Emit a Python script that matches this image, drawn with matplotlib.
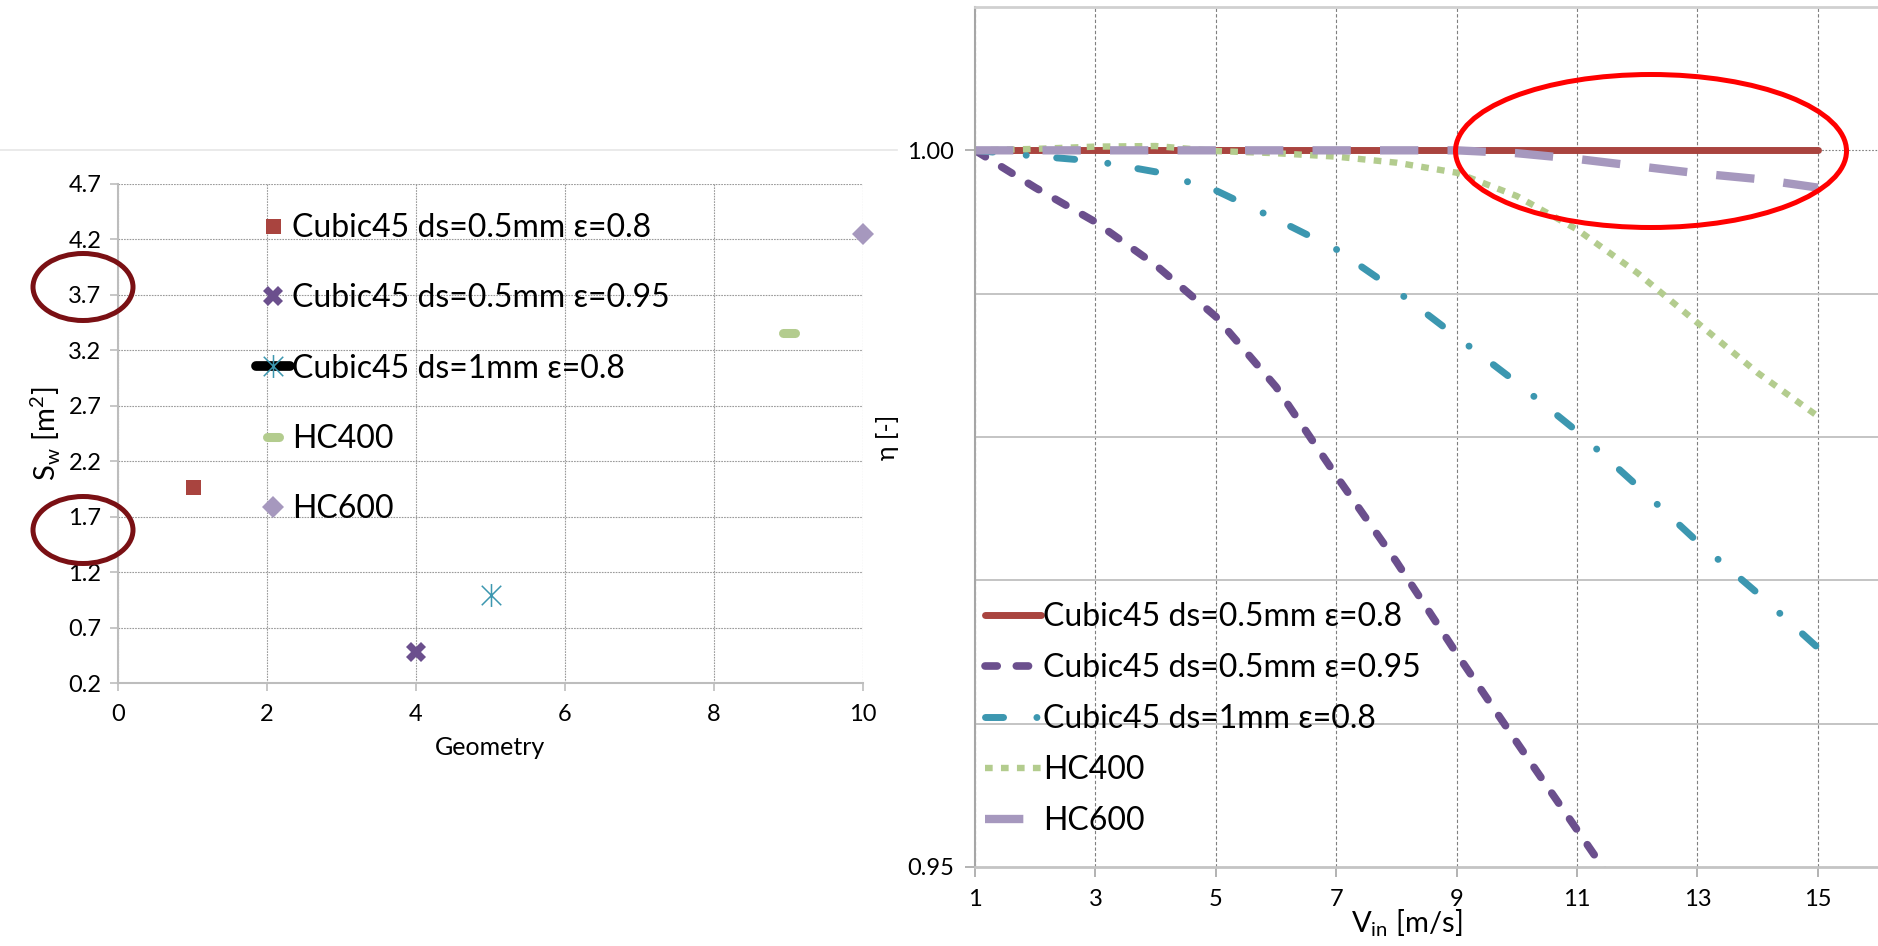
import matplotlib
matplotlib.use('Agg')
import matplotlib.pyplot as plt
from matplotlib.patches import Ellipse
from matplotlib.lines import Line2D
from matplotlib.markers import MarkerStyle
from matplotlib.path import Path
from matplotlib.ticker import FixedLocator, MultipleLocator, FormatStrFormatter

plt.rcParams['font.family'] = ['Lato', 'DejaVu Sans']
plt.rcParams['mathtext.fontset'] = 'custom'
plt.rcParams['mathtext.rm'] = 'Lato'

# wetted surface per geometry
geom_names = ['Cubic45 ds=0.5mm ε=0.8', 'Cubic45 ds=0.5mm ε=0.95',
              'Cubic45 ds=1mm ε=0.8', 'HC400', 'HC600']
geom_x = [1, 4, 5, 9, 10]
geom_sw = [1.97, 0.48, 0.99, 3.36, 4.25]
sw_ticks = [0.2, 0.7, 1.2, 1.7, 2.2, 2.7, 3.2, 3.7, 4.2, 4.7]

# efficiency against inlet velocity
v_in = [1, 2, 3, 4, 5, 6, 7, 8, 9, 10, 11, 12, 13, 14, 15]
eta_c05_08 = [1.0, 1.0, 1.0, 1.0, 1.0, 1.0, 1.0, 1.0, 1.0, 1.0, 1.0, 1.0, 1.0, 1.0, 1.0]
eta_c05_095 = [1.0, 0.9974, 0.9950, 0.9920, 0.9884, 0.9835, 0.9773, 0.9713,
               0.9649, 0.9587, 0.9526, 0.9465]
eta_c1_08 = [1.0, 0.9996, 0.99925, 0.9985, 0.9972, 0.9952, 0.9931, 0.9902,
             0.9870, 0.9838, 0.9804, 0.9766, 0.9727, 0.9691, 0.9653]
eta_hc400 = [1.0, 1.0001, 1.00026, 1.0003, 0.99995, 0.9998, 0.99956, 0.99914,
             0.99844, 0.99681, 0.99448, 0.99146, 0.98797, 0.98448, 0.98145]
eta_hc600 = [1.0, 1.0, 1.0, 1.0, 1.0, 1.0, 1.0, 1.0, 1.0, 0.9998, 0.9994,
             0.9989, 0.9984, 0.9980, 0.9974]

colors = ['#A9443F', '#6B4F8D', '#3C97B0', '#B3CC8E', '#A698BE']

W, H = 1878, 946
fig = plt.figure(figsize=(W / 100, H / 100), dpi=100)


def fx(x):
    return x / W


def fy(y):
    return 1 - y / H


# ---- left chart: S_w per geometry ----
ax1 = fig.add_axes([fx(118), fy(683), 745 / W, 499 / H])
ax1.set_xlim(0, 10)
ax1.set_ylim(0.2, 4.7)
ax1.xaxis.set_major_locator(MultipleLocator(2))
ax1.yaxis.set_major_locator(FixedLocator(sw_ticks))
ax1.yaxis.set_major_formatter(FormatStrFormatter('%.1f'))
ax1.grid(True, color='#9A9A9A', lw=0.8, ls=(0, (1.5, 1)))
ax1.set_axisbelow(True)
for s in ['top', 'right']:
    ax1.spines[s].set_visible(False)
for s in ['left', 'bottom']:
    ax1.spines[s].set_color('#BDBDBD')
    ax1.spines[s].set_linewidth(1.5)
ax1.tick_params(axis='both', colors='#BDBDBD', labelcolor='black',
                labelsize=17, length=6, width=1.2)
ax1.tick_params(axis='y', pad=6)
ax1.tick_params(axis='x', pad=9)

star = MarkerStyle(Path([(0, -1), (0, 1), (-0.85, -0.85), (0.85, 0.85),
                         (-0.85, 0.85), (0.85, -0.85)],
                        [Path.MOVETO, Path.LINETO] * 3))
bar = MarkerStyle('_', capstyle='round')

ax1.plot(geom_x[0], geom_sw[0], ls='none', marker='s', ms=10.8, mew=0,
         color=colors[0], clip_on=False)
ax1.plot(geom_x[1], geom_sw[1], ls='none', marker='X', ms=14, mew=0,
         color=colors[1], clip_on=False)
ax1.plot(geom_x[2], geom_sw[2], ls='none', marker=star, ms=16.5, mew=1.1,
         mec=colors[2], color=colors[2], clip_on=False)
ax1.plot(geom_x[3], geom_sw[3], ls='none', marker=bar, ms=8, mew=6.5,
         mec=colors[3], clip_on=False)
ax1.plot(geom_x[4], geom_sw[4], ls='none', marker='D', ms=11, mew=0,
         color=colors[4], clip_on=False)

h1 = [Line2D([], [], ls='none', marker='s', ms=10.8, mew=0, color=colors[0]),
      Line2D([], [], ls='none', marker='X', ms=14, mew=0, color=colors[1]),
      Line2D([], [], color='black', lw=7, solid_capstyle='round', marker=star,
             ms=16.5, mew=1.1, mec=colors[2]),
      Line2D([], [], ls='none', marker=bar, ms=8, mew=6.5, mec=colors[3]),
      Line2D([], [], ls='none', marker='D', ms=11, mew=0, color=colors[4])]
fig.legend(h1, geom_names, loc='upper left', bbox_to_anchor=(fx(256), fy(213)),
           frameon=False, fontsize=23, handlelength=1.06, handletextpad=0.08,
           labelspacing=1.26, borderpad=0, borderaxespad=0, numpoints=1)

ax1.set_xlabel('Geometry', fontsize=18, labelpad=8)
ax1.set_ylabel(r'S$_{\mathregular{w}}$ [m$^{\mathregular{2}}$]', fontsize=21, labelpad=4)

# ---- right chart: efficiency vs velocity ----
ax2 = fig.add_axes([fx(975), fy(867), 903 / W, 860 / H])
ax2.set_xlim(1, 16)
ax2.set_ylim(0.95, 1.01)
ax2.xaxis.set_major_locator(FixedLocator(list(range(1, 16, 2))))
ax2.yaxis.set_major_locator(FixedLocator([0.95, 1.0]))
ax2.yaxis.set_minor_locator(MultipleLocator(0.01))
ax2.yaxis.set_major_formatter(FormatStrFormatter('%.2f'))
ax2.grid(True, axis='x', color='#7F7F7F', lw=0.8, ls=(0, (3, 2)))
ax2.grid(True, axis='y', which='major', color='#7F7F7F', lw=0.8, ls=(0, (1.5, 1.5)))
ax2.grid(True, axis='y', which='minor', color='#C4C4C4', lw=1.4, ls='-')
ax2.set_axisbelow(True)
ax2.spines['right'].set_visible(False)
ax2.spines['top'].set_color('#D0D0D0')
ax2.spines['top'].set_linewidth(2)
ax2.spines['left'].set_color('#A6A6A6')
ax2.spines['left'].set_linewidth(1.5)
ax2.spines['bottom'].set_color('#C4C4C4')
ax2.spines['bottom'].set_linewidth(2)
ax2.tick_params(axis='both', which='major', colors='#A6A6A6', labelcolor='black',
                labelsize=17, length=7, width=1.2)
ax2.tick_params(axis='y', which='minor', length=0)
ax2.tick_params(axis='y', pad=8)
ax2.tick_params(axis='x', pad=9)

ax2.plot(v_in, eta_c05_08, color=colors[0], lw=5, solid_capstyle='round',
         label=geom_names[0])
ax2.plot(v_in[:len(eta_c05_095)], eta_c05_095, color=colors[1], lw=5.5,
         ls=(0, (1.6, 2.5)), dash_capstyle='round', label=geom_names[1])
ax2.plot(v_in, eta_c1_08, color=colors[2], lw=5, ls=(0, (2.6, 4.8, 0.01, 4.4)),
         dash_capstyle='round', label=geom_names[2])
ax2.plot(v_in, eta_hc400, color=colors[3], lw=4.6, ls=(0, (1.2, 1.3)),
         dash_capstyle='butt', label=geom_names[3])
ax2.plot(v_in, eta_hc600, color=colors[4], lw=6, ls=(0, (4.6, 3.5)),
         dash_capstyle='butt', label=geom_names[4])

ax2.legend(loc='upper left', bbox_to_anchor=(fx(985), fy(602)),
           bbox_transform=fig.transFigure, frameon=False, fontsize=23,
           handlelength=1.74, handletextpad=0.08, labelspacing=0.66,
           borderpad=0, borderaxespad=0)

ax2.set_xlabel(r'V$_{\mathregular{in}}$ [m/s]', fontsize=21)
ax2.xaxis.set_label_coords((1407 - 975) / 903, -0.047)
ax2.set_ylabel('η [-]', fontsize=18, labelpad=6)

# frame line of the left chart
fig.add_artist(Line2D([0, fx(897)], [fy(150), fy(150)], transform=fig.transFigure,
                      color='#E6E6E6', lw=1.2))

# highlight rings
for cy in [287, 530]:
    fig.add_artist(Ellipse((fx(83), fy(cy)), 100 / W, 67 / H, transform=fig.transFigure,
                           fill=False, ec='#7A1014', lw=3.6))
fig.add_artist(Ellipse((fx(1651), fy(151)), 391 / W, 153 / H, transform=fig.transFigure,
                       fill=False, ec='#FF0000', lw=3.6))

fig.savefig('out.png', dpi=100)
